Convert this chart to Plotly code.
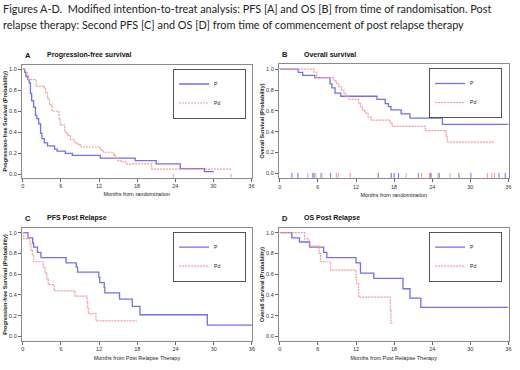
import plotly.graph_objects as go

# ---------------- data ----------------
header_line1 = "Figures A-D.\u00a0\u00a0Modified intention-to-treat analysis: PFS [A] and OS [B] from time of randomisation. Post"
header_line2 = "relapse therapy: Second PFS [C] and OS [D] from time of commencement of post relapse therapy"

series_names = ["P", "Pd"]
panel_letters = ["A", "B", "C", "D"]
panel_titles = ["Progression-free survival", "Overall survival", "PFS Post Relapse", "OS Post Relapse"]
x_titles = ["Months from randomization", "Months from randomization",
            "Months from Post Relapse Therapy", "Months from Post Relapse Therapy"]
y_titles = ["Progression-free Survival (Probability)", "Overall Survival (Probability)",
            "Progression-free Survival (Probability)", "Overall Survival (Probability)"]
x_ticks = [0, 6, 12, 18, 24, 30, 36]
y_ticks = [0.0, 0.2, 0.4, 0.6, 0.8, 1.0]

# Panel A: PFS from randomisation
A_P_t = [0, 0.3, 0.5, 0.8, 1.0, 1.2, 1.4, 1.7, 2.0, 2.2, 2.5, 2.8, 3.0, 3.4, 3.9, 5.0, 5.4, 6.7, 7.8, 12.2, 17.7, 21.0, 24.8, 28.6, 30.1]
A_P_s = [1.0, 0.97, 0.93, 0.90, 0.87, 0.77, 0.70, 0.64, 0.56, 0.53, 0.48, 0.39, 0.34, 0.30, 0.27, 0.24, 0.22, 0.20, 0.18, 0.155, 0.13, 0.10, 0.055, 0.025, 0.025]
A_Pd_t = [0, 0.4, 0.7, 0.9, 2.1, 3.4, 3.6, 3.9, 4.2, 4.6, 5.7, 5.9, 6.6, 7.0, 7.5, 8.1, 8.7, 9.2, 12.2, 12.7, 14.3, 14.6, 15.0, 15.5, 16.2, 20.3, 32.9]
A_Pd_s = [1.0, 0.97, 0.94, 0.90, 0.84, 0.81, 0.78, 0.72, 0.66, 0.60, 0.53, 0.47, 0.40, 0.37, 0.33, 0.30, 0.28, 0.26, 0.23, 0.21, 0.18, 0.15, 0.13, 0.12, 0.10, 0.05, 0.05]
A_P_cens = []
A_Pd_cens = [23.7, 32.8]

# Panel B: OS from randomisation
B_P_t = [0, 2.9, 3.6, 5.5, 7.9, 8.2, 8.7, 9.6, 15.3, 16.6, 17.1, 17.5, 19.1, 20.5, 25.6, 36]
B_P_s = [1.0, 0.97, 0.94, 0.92, 0.86, 0.82, 0.77, 0.74, 0.71, 0.67, 0.64, 0.61, 0.57, 0.53, 0.47, 0.47]
B_Pd_t = [0, 5.4, 5.8, 8.5, 8.9, 9.3, 9.7, 10.1, 10.4, 10.9, 12.4, 12.7, 13.0, 13.4, 13.9, 14.4, 17.4, 17.7, 22.9, 26.2, 26.4, 33.9]
B_Pd_s = [1.0, 0.97, 0.92, 0.89, 0.86, 0.83, 0.80, 0.77, 0.74, 0.71, 0.67, 0.64, 0.61, 0.58, 0.54, 0.51, 0.48, 0.45, 0.41, 0.35, 0.30, 0.30]
B_P_cens = [1.9, 2.85, 5.2, 5.4, 6.5, 8.0, 15.5, 17.6, 18.0, 18.7, 21.8, 23.7, 25.1, 28.2, 30.1, 34.5, 35.5]
B_Pd_cens = [4.4, 5.7, 6.6, 8.9, 9.2, 11.1, 17.5, 19.9, 22.3, 23.6, 23.9, 24.9, 26.8, 32.7, 33.4, 33.8]

# Panel C: second PFS from post relapse therapy
C_P_t = [0, 0.8, 1.55, 1.7, 2.3, 2.85, 6.8, 8.4, 8.6, 11.95, 12.1, 12.8, 12.9, 15.2, 17.2, 18.4, 29.0, 36]
C_P_s = [1.0, 0.95, 0.90, 0.86, 0.81, 0.76, 0.71, 0.67, 0.62, 0.57, 0.52, 0.47, 0.42, 0.36, 0.29, 0.21, 0.11, 0.11]
C_Pd_t = [0, 0.15, 1.1, 1.3, 1.5, 1.7, 3.2, 3.5, 3.8, 4.0, 4.95, 8.2, 10.1, 10.2, 10.3, 11.5, 17.9]
C_Pd_s = [1.0, 0.94, 0.89, 0.83, 0.78, 0.72, 0.67, 0.61, 0.55, 0.50, 0.44, 0.39, 0.33, 0.28, 0.22, 0.15, 0.15]

# Panel D: OS from post relapse therapy
D_P_t = [0, 1.9, 3.1, 4.7, 6.9, 7.4, 12.0, 12.7, 14.8, 19.4, 20.5, 22.2, 36]
D_P_s = [1.0, 0.95, 0.91, 0.86, 0.81, 0.76, 0.71, 0.61, 0.56, 0.46, 0.37, 0.28, 0.28]
D_Pd_t = [0, 3.9, 4.6, 6.2, 6.4, 8.0, 12.0, 12.1, 12.4, 17.4, 17.5, 17.9]
D_Pd_s = [1.0, 0.94, 0.87, 0.80, 0.72, 0.64, 0.57, 0.51, 0.38, 0.25, 0.13, 0.13]

# ---------------- styling / layout ----------------
W, H = 520, 370
BLUE = "#7070f0"
PINK = "#f29a9a"
FRAME = "#8a8a8a"
FONT = "Liberation Sans"

def px_x(p):
    return p / W

def px_y(p):
    return 1 - p / H

# plot frames in pixels: (left, right, top, bottom)
frames = [(21.0, 252.5, 65.0, 177.5), (280.0, 511.5, 64.0, 178.0),
          (21.0, 253.0, 228.3, 340.7), (280.0, 511.5, 228.3, 340.7)]
y_ranges = [[-0.03, 1.04], [-0.045, 1.05], [-0.04, 1.042], [-0.04, 1.042]]
legend_pos = [(247, 68.5), (505, 68.0), (247, 231.7), (505, 231.7)]

panels = [
    (A_P_t, A_P_s, A_Pd_t, A_Pd_s, A_P_cens, A_Pd_cens),
    (B_P_t, B_P_s, B_Pd_t, B_Pd_s, B_P_cens, B_Pd_cens),
    (C_P_t, C_P_s, C_Pd_t, C_Pd_s, [], []),
    (D_P_t, D_P_s, D_Pd_t, D_Pd_s, [], []),
]

fig = go.Figure()
pad = "\u00a0" * 14

for i, (pt, ps, dt, ds, pc, dc) in enumerate(panels):
    k = "" if i == 0 else str(i + 1)
    xa, ya = "x" + k, "y" + k
    lg = "legend" + k
    fig.add_trace(go.Scatter(x=pt, y=ps, mode="lines", line_shape="hv", name=series_names[0] + pad,
                             line=dict(color=BLUE, width=1.3), xaxis=xa, yaxis=ya, legend=lg))
    fig.add_trace(go.Scatter(x=dt, y=ds, mode="lines", line_shape="hv", name=series_names[1] + pad,
                             line=dict(color=PINK, width=1.2, dash="2px,1px"), xaxis=xa, yaxis=ya, legend=lg))
    for cens, col in ((pc, BLUE), (dc, PINK)):
        if cens:
            fig.add_trace(go.Scatter(x=cens, y=[-0.02] * len(cens), mode="markers", showlegend=False,
                                     marker=dict(symbol="line-ns", size=3.5, line=dict(color=col, width=1)),
                                     xaxis=xa, yaxis=ya, hoverinfo="skip"))

layout = dict(width=W, height=H, margin=dict(l=0, r=0, t=0, b=0),
              paper_bgcolor="white", plot_bgcolor="white", showlegend=True)

annotations = []
for i in range(4):
    k = "" if i == 0 else str(i + 1)
    l, r, t, b = frames[i]
    axis_common = dict(showline=True, mirror=True, linecolor=FRAME, linewidth=1,
                       ticks="outside", ticklen=3, tickcolor="#666", showgrid=False, zeroline=False,
                       ticklabeloverflow="allow",
                       tickfont=dict(size=5.5, color="#333", family=FONT))
    layout["xaxis" + k] = dict(axis_common, domain=[px_x(l), px_x(r)], range=[-0.15, 36.02],
                               tickvals=x_ticks, anchor="y" + k,
                               title=dict(text=x_titles[i], standoff=4,
                                          font=dict(size=5.5, color="#222", family=FONT)))
    layout["yaxis" + k] = dict(axis_common, domain=[px_y(b), px_y(t)], range=y_ranges[i],
                               tickvals=y_ticks, tickformat=".1f", anchor="x" + k,
                               title=dict(text=y_titles[i], standoff=1,
                                          font=dict(size=5.5, color="#222", family=FONT, weight="bold")))
    lx, ly = legend_pos[i]
    layout["legend" + k] = dict(x=px_x(lx), y=px_y(ly), xanchor="right", yanchor="top",
                                bordercolor="#555", borderwidth=1, bgcolor="white",
                                font=dict(size=5, color="#222", family=FONT), itemwidth=30)
    # panel letter and title
    annotations.append(dict(text="<b>" + panel_letters[i] + "</b>", xref="paper", yref="paper",
                            x=px_x(l + 1), y=px_y(t - 10), xanchor="left", yanchor="middle",
                            showarrow=False, font=dict(size=7.5, color="#111", family=FONT)))
    annotations.append(dict(text="<b>" + panel_titles[i] + "</b>", xref="paper", yref="paper",
                            x=px_x(l + 23), y=px_y(t - 10), xanchor="left", yanchor="middle",
                            showarrow=False, font=dict(size=7, color="#111", family=FONT)))

for line_text, ypx in ((header_line1, 9), (header_line2, 25)):
    annotations.append(dict(text=line_text, xref="paper", yref="paper",
                            x=0, y=px_y(ypx), xanchor="left", yanchor="middle", align="left",
                            showarrow=False, font=dict(size=10.9, color="#222", family="Lato")))
layout["annotations"] = annotations
fig.update_layout(**layout)
fig.write_html("out.html", config={"displayModeBar": False},
               post_script="document.body.style.margin='0';document.body.style.padding='0';")
